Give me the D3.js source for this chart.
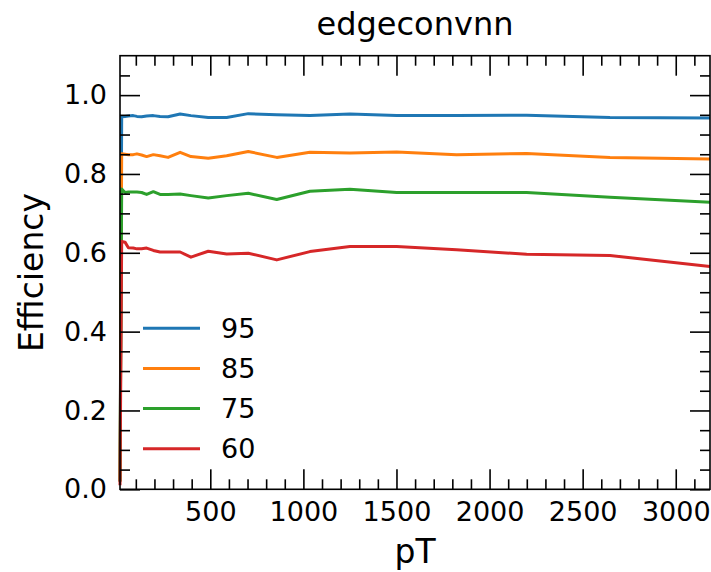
<!DOCTYPE html>
<meta charset="utf-8">
<script src="https://d3js.org/d3.v7.min.js"></script>
<style>
  body { margin: 0; background: #fff; }
  text { font-family: "DejaVu Sans", sans-serif; fill: #000; }
</style>
<div id="chart"></div>
<script>
  // pT bin positions and efficiency per working point
  var pt = [15, 24, 42, 60, 86, 106, 131, 158, 194, 230, 273, 338, 396, 489, 588, 704, 857, 1035, 1250, 1501, 1823, 2199, 2647, 3184];
  var eff95 = [0.02, 0.945, 0.946, 0.947, 0.948, 0.946, 0.945, 0.947, 0.948, 0.946, 0.945, 0.952, 0.948, 0.943, 0.943, 0.953, 0.950, 0.948, 0.952, 0.948, 0.948, 0.949, 0.943, 0.942];
  var eff85 = [0.02, 0.851, 0.850, 0.849, 0.849, 0.851, 0.848, 0.844, 0.849, 0.846, 0.842, 0.855, 0.844, 0.840, 0.846, 0.857, 0.842, 0.855, 0.853, 0.856, 0.849, 0.852, 0.842, 0.838];
  var eff75 = [0.02, 0.762, 0.753, 0.754, 0.754, 0.754, 0.753, 0.748, 0.755, 0.748, 0.748, 0.749, 0.745, 0.739, 0.745, 0.751, 0.735, 0.756, 0.761, 0.753, 0.753, 0.753, 0.741, 0.728];
  var eff60 = [0.01, 0.629, 0.627, 0.613, 0.612, 0.610, 0.610, 0.612, 0.606, 0.602, 0.602, 0.602, 0.589, 0.604, 0.597, 0.599, 0.582, 0.603, 0.616, 0.616, 0.608, 0.596, 0.593, 0.565];
  var seriesNames = ["95", "85", "75", "60"];
  var seriesValues = [eff95, eff85, eff75, eff60];
  var colors = ["#1f77b4", "#ff7f0e", "#2ca02c", "#d62728"];
  var xMajor = [500, 1000, 1500, 2000, 2500, 3000];
  var yMajor = [0.0, 0.2, 0.4, 0.6, 0.8, 1.0];

  var W = 711, H = 572;
  var margin = {top: 55.7, right: 1, bottom: 82.7, left: 120};
  var width = W - margin.left - margin.right,
      height = H - margin.top - margin.bottom;

  var svg = d3.select("#chart").append("svg")
      .attr("width", W).attr("height", H);
  var g = svg.append("g")
      .attr("transform", "translate(" + margin.left + "," + margin.top + ")");

  var x = d3.scaleLinear().domain([15, 3184]).range([0, width]);
  var y = d3.scaleLinear().domain([0, 1.1]).range([height, 0]);

  // minor tick positions
  var xMinor = d3.range(100, 3200, 100).filter(function(v) { return v % 500 != 0 && v > 15 && v < 3184; });
  var yMinor = d3.range(1, 22).map(function(i) { return i * 0.05; }).filter(function(v) { return Math.abs(v * 5 - Math.round(v * 5)) > 1e-6; });

  // lines
  var line = d3.line()
    .x(function(d, i) { return x(pt[i]); })
    .y(function(d) { return y(d); });

  seriesValues.forEach(function(vals, k) {
    g.append("path")
      .datum(vals)
      .attr("d", line)
      .style("fill", "none")
      .style("stroke", colors[k])
      .style("stroke-width", 3)
      .style("stroke-linejoin", "round");
  });

  // axes, ticks pointing inward on all four sides
  function styleAxis(sel) {
    sel.select(".domain").remove();
    sel.selectAll("line").style("stroke", "#000").style("stroke-width", 1.6);
    sel.selectAll("text").style("font-size", "27px").style("font-family", "DejaVu Sans");
  }

  g.append("g").attr("transform", "translate(0," + height + ")")
    .call(d3.axisBottom(x).tickValues(xMajor).tickSize(-20).tickPadding(13).tickFormat(d3.format("d")))
    .call(styleAxis);
  g.append("g").attr("transform", "translate(0," + height + ")")
    .call(d3.axisBottom(x).tickValues(xMinor).tickSize(-10).tickFormat(""))
    .call(styleAxis);
  g.append("g")
    .call(d3.axisTop(x).tickValues(xMajor).tickSize(-20).tickFormat(""))
    .call(styleAxis);
  g.append("g")
    .call(d3.axisTop(x).tickValues(xMinor).tickSize(-10).tickFormat(""))
    .call(styleAxis);

  g.append("g")
    .call(d3.axisLeft(y).tickValues(yMajor).tickSize(-20).tickPadding(13).tickFormat(d3.format(".1f")))
    .call(styleAxis);
  g.append("g")
    .call(d3.axisLeft(y).tickValues(yMinor).tickSize(-10).tickFormat(""))
    .call(styleAxis);
  g.append("g").attr("transform", "translate(" + width + ",0)")
    .call(d3.axisRight(y).tickValues(yMajor).tickSize(-20).tickFormat(""))
    .call(styleAxis);
  g.append("g").attr("transform", "translate(" + width + ",0)")
    .call(d3.axisRight(y).tickValues(yMinor).tickSize(-10).tickFormat(""))
    .call(styleAxis);

  // frame
  g.append("rect")
    .attr("width", width).attr("height", height)
    .style("fill", "none").style("stroke", "#000").style("stroke-width", 1.6);

  // title and axis labels
  svg.append("text")
    .attr("x", margin.left + width / 2).attr("y", 35)
    .attr("text-anchor", "middle")
    .style("font-size", "32px")
    .text("edgeconvnn");

  svg.append("text")
    .attr("x", margin.left + width / 2).attr("y", 563)
    .attr("text-anchor", "middle")
    .style("font-size", "33px")
    .text("pT");

  svg.append("text")
    .attr("transform", "translate(43," + (margin.top + height / 2) + ") rotate(-90)")
    .attr("text-anchor", "middle")
    .style("font-size", "33px")
    .text("Efficiency");

  // legend
  var legend = g.append("g").attr("transform", "translate(23,272.5)");
  seriesNames.forEach(function(name, k) {
    var row = legend.append("g").attr("transform", "translate(0," + (k * 40.2) + ")");
    row.append("line")
      .attr("x1", 0).attr("x2", 57)
      .style("stroke", colors[k]).style("stroke-width", 3);
    row.append("text")
      .attr("x", 78).attr("dy", "0.35em")
      .style("font-size", "27px")
      .text(name);
  });
</script>
